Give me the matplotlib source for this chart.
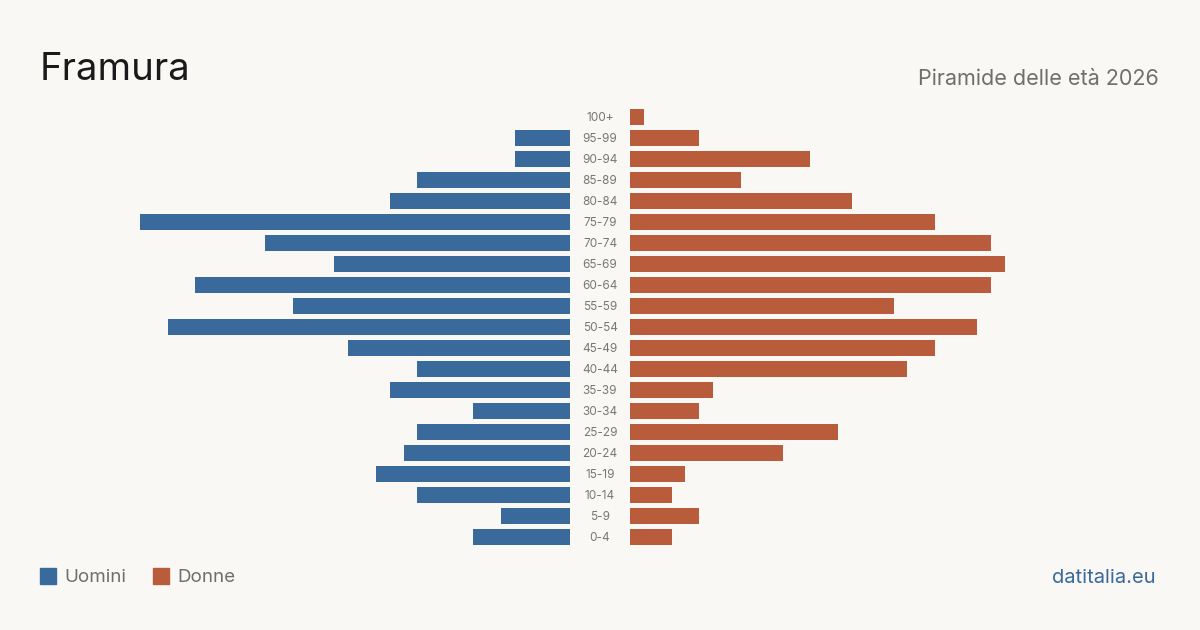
import numpy as np
import matplotlib.pyplot as plt

age_groups = ["0-4", "5-9", "10-14", "15-19", "20-24", "25-29", "30-34", "35-39",
              "40-44", "45-49", "50-54", "55-59", "60-64", "65-69", "70-74",
              "75-79", "80-84", "85-89", "90-94", "95-99", "100+"]
uomini = [7, 5, 11, 14, 12, 11, 7, 13, 11, 16, 29, 20, 27, 17, 22, 31, 13, 11, 4, 4, 0]
donne = [3, 5, 3, 4, 11, 15, 5, 6, 20, 22, 25, 19, 26, 27, 26, 22, 16, 8, 13, 5, 1]

bg = "#f9f8f4"
blue = "#3a6a9b"
orange = "#b95c3b"

fig = plt.figure(figsize=(12, 6.3), dpi=100, facecolor=bg)
W, H = 1200, 630
top, bottom = 106.5, 547.5
xmax = 31

ax_l = fig.add_axes([140 / W, 1 - bottom / H, 430 / W, (bottom - top) / H])
ax_r = fig.add_axes([630 / W, 1 - bottom / H, 430 / W, (bottom - top) / H])

y = np.arange(len(age_groups))
ax_l.barh(y, uomini, height=0.8, color=blue)
ax_r.barh(y, donne, height=0.8, color=orange)
ax_l.set_xlim(xmax, 0)
ax_r.set_xlim(0, xmax)
for ax in (ax_l, ax_r):
    ax.set_ylim(-0.5, len(age_groups) - 0.5)
    ax.axis("off")

for i, lab in enumerate(age_groups):
    yy = top + (len(age_groups) - 1 - i + 0.5) * (bottom - top) / len(age_groups)
    fig.text(600 / W, 1 - (yy + 1) / H, lab, ha="center", va="center",
             fontsize=8.5, color="#777777", family="Inter")

fig.text(40 / W, 1 - 70 / H, "Framura", fontsize=27.5, color="#1a1a1a",
         va="center", ha="left", family="Inter")
fig.text(1159 / W, 1 - 79 / H, "Piramide delle età 2026", fontsize=15.5,
         color="#6e6e6e", va="center", ha="right", family="Inter")

# legenda
fig.patches.append(plt.Rectangle((40 / W, 1 - 584 / H), 16 / W, 16 / H,
                                 transform=fig.transFigure, color=blue))
fig.text(64 / W, 1 - 578 / H, "Uomini", fontsize=13.5, color="#6e6e6e",
         va="center", ha="left", family="Inter")
fig.patches.append(plt.Rectangle((153 / W, 1 - 584 / H), 16 / W, 16 / H,
                                 transform=fig.transFigure, color=orange))
fig.text(177 / W, 1 - 578 / H, "Donne", fontsize=13.5, color="#6e6e6e",
         va="center", ha="left", family="Inter")

fig.text(1156 / W, 1 - 578 / H, "datitalia.eu", fontsize=14.5, color=blue,
         va="center", ha="right", family="Inter")

fig.savefig("out.png", dpi=100, facecolor=bg)
